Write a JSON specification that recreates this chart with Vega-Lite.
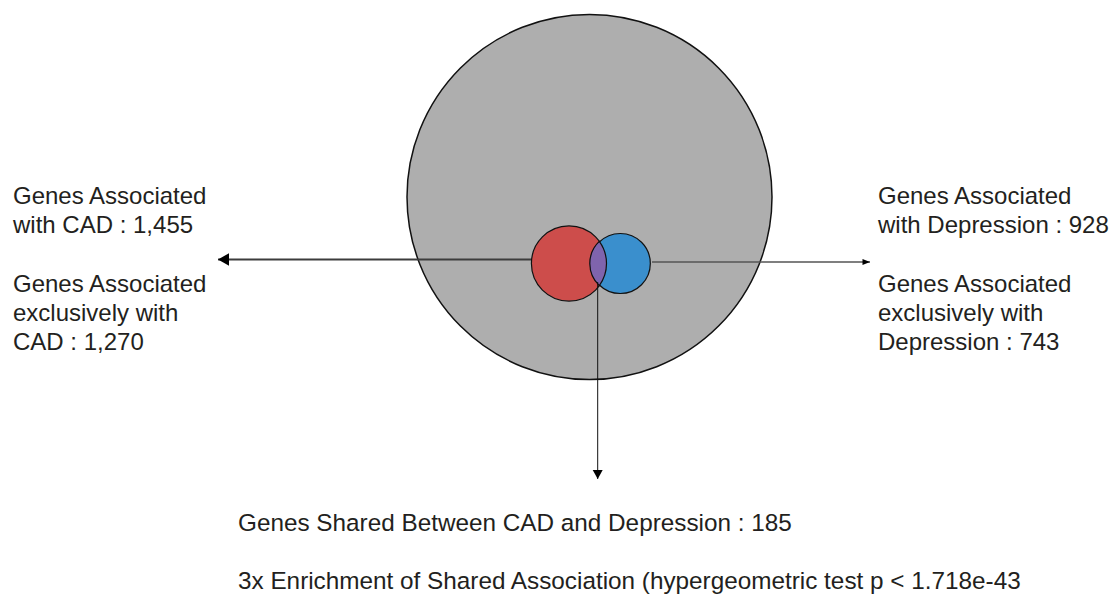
{
  "$schema": "https://vega.github.io/schema/vega-lite/v6.json",
  "width": 1115,
  "height": 594,
  "padding": 0,
  "autosize": {"type": "none"},
  "background": "#ffffff",
  "config": {"view": {"stroke": null}},
  "datasets": {
    "universe": [{"set": "All genes", "x": 589.5, "y": 197}],
    "sets": [
      {"set": "CAD", "genes": 1455, "x": 569, "y": 263.5},
      {"set": "Depression", "genes": 928, "x": 620.3, "y": 263.5}
    ],
    "overlap": [{"set": "Shared", "genes": 185, "x": 599.3, "y": 263.5}],
    "arrows": [
      {"target": "CAD", "x": 531, "y": 259.5, "x2": 218, "y2": 259.5},
      {"target": "Depression", "x": 652, "y": 262, "x2": 870, "y2": 262},
      {"target": "Shared", "x": 597.7, "y": 282, "x2": 597.7, "y2": 479}
    ],
    "sideLabels": [
      {"label": "Genes Associated\nwith CAD : 1,455", "x": 13, "y": 204},
      {"label": "Genes Associated\nexclusively with\nCAD : 1,270", "x": 13, "y": 292},
      {"label": "Genes Associated\nwith Depression : 928", "x": 878, "y": 204},
      {"label": "Genes Associated\nexclusively with\nDepression : 743", "x": 878, "y": 292}
    ],
    "bottomLabels": [
      {"label": "Genes Shared Between CAD and Depression : 185", "x": 238, "y": 531},
      {"label": "3x Enrichment of Shared Association (hypergeometric test p < 1.718e-43", "x": 238, "y": 589}
    ]
  },
  "encoding": {
    "x": {"field": "x", "type": "quantitative", "scale": {"domain": [0, 1115], "nice": false, "zero": false}, "axis": null},
    "y": {"field": "y", "type": "quantitative", "scale": {"domain": [0, 594], "nice": false, "zero": false, "reverse": true}, "axis": null}
  },
  "layer": [
    {
      "data": {"name": "universe"},
      "mark": {"type": "point", "shape": "circle", "filled": true, "size": 133225, "fill": "#aeaeae", "stroke": "#111111", "strokeWidth": 1.5, "opacity": 1}
    },
    {
      "data": {"name": "sets"},
      "mark": {"type": "point", "shape": "circle", "filled": true, "stroke": "#111111", "strokeWidth": 1.2, "opacity": 1},
      "encoding": {
        "fill": {"field": "set", "type": "nominal", "scale": {"domain": ["CAD", "Depression"], "range": ["#cd4d4b", "#3a8fcd"]}, "legend": null},
        "size": {"field": "genes", "type": "quantitative", "scale": {"domain": [0, 1455], "range": [0, 5650]}, "legend": null}
      }
    },
    {
      "data": {"name": "overlap"},
      "mark": {"type": "point", "shape": "M0,-22.1A37.5,37.5,0,0,1,0,22.1A30.5,30.5,0,0,1,0,-22.1Z", "size": 4, "filled": true, "fill": "#7f64ad", "stroke": "#111111", "strokeWidth": 1.2, "opacity": 1}
    },
    {
      "data": {"name": "arrows"},
      "mark": {"type": "rule"},
      "encoding": {
        "x2": {"field": "x2"},
        "y2": {"field": "y2"},
        "stroke": {"field": "target", "type": "nominal", "scale": {"domain": ["CAD", "Depression", "Shared"], "range": ["#3c3c3c", "#555555", "#111111"]}, "legend": null},
        "strokeWidth": {"field": "target", "type": "nominal", "scale": {"domain": ["CAD", "Depression", "Shared"], "range": [2, 1, 1.5]}, "legend": null}
      }
    },
    {
      "data": {"name": "arrows"},
      "transform": [{"filter": "datum.target === 'CAD'"}],
      "mark": {"type": "point", "shape": "M0,0L11,-6.3L11,6.3Z", "size": 4, "filled": true, "fill": "#000000", "strokeWidth": 0, "opacity": 1},
      "encoding": {"x": {"field": "x2", "type": "quantitative"}, "y": {"field": "y2", "type": "quantitative"}}
    },
    {
      "data": {"name": "arrows"},
      "transform": [{"filter": "datum.target === 'Depression'"}],
      "mark": {"type": "point", "shape": "M0,0L-7.5,-3L-7.5,3Z", "size": 4, "filled": true, "fill": "#000000", "strokeWidth": 0, "opacity": 1},
      "encoding": {"x": {"field": "x2", "type": "quantitative"}, "y": {"field": "y2", "type": "quantitative"}}
    },
    {
      "data": {"name": "arrows"},
      "transform": [{"filter": "datum.target === 'Shared'"}],
      "mark": {"type": "point", "shape": "M0,0L-5,-9L5,-9Z", "size": 4, "filled": true, "fill": "#000000", "strokeWidth": 0, "opacity": 1},
      "encoding": {"x": {"field": "x2", "type": "quantitative"}, "y": {"field": "y2", "type": "quantitative"}}
    },
    {
      "data": {"name": "sideLabels"},
      "mark": {"type": "text", "align": "left", "baseline": "alphabetic", "font": "Liberation Sans", "fontSize": 24, "lineHeight": 29, "lineBreak": "\n", "fill": "#231f20"},
      "encoding": {"text": {"field": "label", "type": "nominal"}}
    },
    {
      "data": {"name": "bottomLabels"},
      "mark": {"type": "text", "align": "left", "baseline": "alphabetic", "font": "Liberation Sans", "fontSize": 24.3, "fill": "#231f20"},
      "encoding": {"text": {"field": "label", "type": "nominal"}}
    }
  ]
}
